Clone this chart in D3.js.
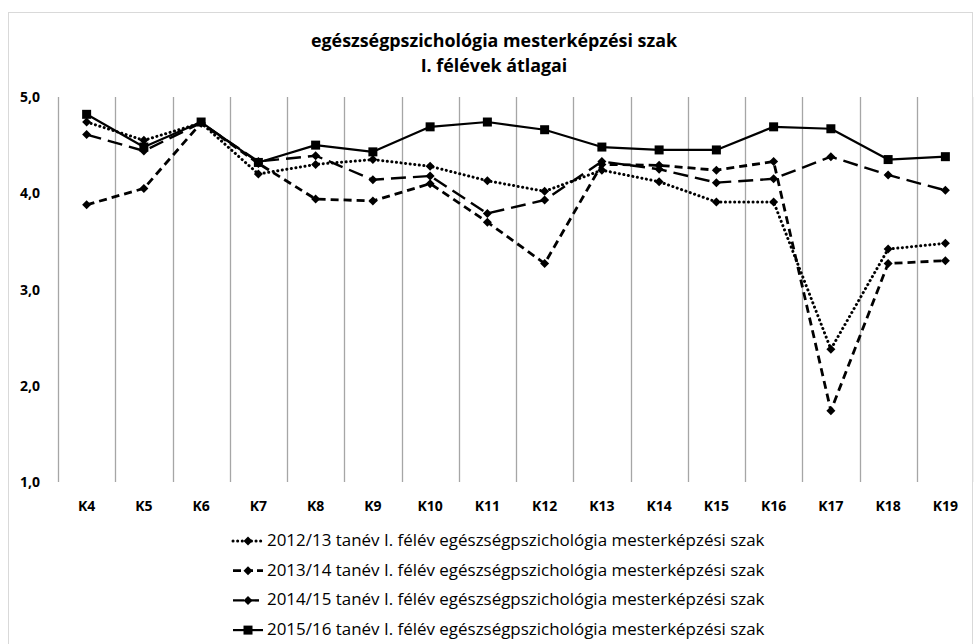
<!DOCTYPE html>
<html>
<head>
<meta charset="utf-8">
<script src="https://cdn.jsdelivr.net/npm/d3@7"></script>
<style>
    body { margin: 0; background: #fff; }
    #chart { width: 974px; height: 644px; }
    text { font-family: "Open Sans", Lato, sans-serif; fill: #000; }
</style>
</head>
<body>
<div id="chart"></div>
<script>
// kategóriák és a négy évfolyam átlagai
var categories = ["K4","K5","K6","K7","K8","K9","K10","K11","K12","K13","K14","K15","K16","K17","K18","K19"];
var s2012 = [4.74,4.55,4.73,4.20,4.30,4.35,4.28,4.13,4.02,4.24,4.12,3.91,3.91,2.38,3.42,3.48];
var s2013 = [3.88,4.05,4.73,4.31,3.94,3.92,4.10,3.70,3.27,4.30,4.29,4.24,4.33,1.74,3.27,3.30];
var s2014 = [4.61,4.44,4.73,4.33,4.39,4.14,4.18,3.79,3.93,4.33,4.25,4.11,4.15,4.38,4.19,4.03];
var s2015 = [4.82,4.48,4.74,4.32,4.50,4.43,4.69,4.74,4.66,4.48,4.45,4.45,4.69,4.67,4.35,4.38];
var yTicks = [1,2,3,4,5];
var seriesNames = [
    "2012/13 tanév I. félév egészségpszichológia mesterképzési szak",
    "2013/14 tanév I. félév egészségpszichológia mesterképzési szak",
    "2014/15 tanév I. félév egészségpszichológia mesterképzési szak",
    "2015/16 tanév I. félév egészségpszichológia mesterképzési szak"
];
var titleLines = ["egészségpszichológia mesterképzési szak", "I. félévek átlagai"];

var series = [
    {name: seriesNames[0], values: s2012, dash: "0.1,4.5", legendDash: "0.1,4.5", cap: "round", width: 3, marker: "diamond"},
    {name: seriesNames[1], values: s2013, dash: "8,5", legendDash: "8,4", cap: "butt", width: 2.8, marker: "diamond"},
    {name: seriesNames[2], values: s2014, dash: "15,7", legendDash: "11,4", cap: "butt", width: 2.4, marker: "diamond"},
    {name: seriesNames[3], values: s2015, dash: null, legendDash: null, cap: "butt", width: 2.2, marker: "square"}
];

var width = 974, height = 644;
var svg = d3.select("#chart").append("svg")
    .attr("width", width)
    .attr("height", height);

// keret
svg.append("rect")
    .attr("x", 8.5).attr("y", 12.5)
    .attr("width", 964).attr("height", 700)
    .attr("fill", "none")
    .attr("stroke", "#d9d9d9");

var x = d3.scaleBand().domain(categories).range([58, 974]);
var y = d3.scaleLinear().domain([1, 5]).range([482, 97]);

// szöveg szélességét a mintához igazítja
function fitWidth(sel, target) {
    sel.each(function() {
        var fs = +this.getAttribute("font-size");
        var w = this.getComputedTextLength();
        this.setAttribute("font-size", (fs * target / w).toFixed(2));
    });
}

// cím
var title = svg.selectAll(".title")
    .data(titleLines)
    .enter().append("text")
    .attr("class", "title")
    .attr("x", 494)
    .attr("y", function(d, i) { return 47 + i * 25; })
    .attr("text-anchor", "middle")
    .attr("font-size", 16)
    .attr("font-weight", "bold")
    .text(function(d) { return d; });
fitWidth(title.filter(function(d, i) { return i == 0; }), 366);
title.filter(function(d, i) { return i == 1; })
    .attr("font-size", svg.select(".title").attr("font-size"));

// függőleges rácsvonalak a kategóriák határain
var bounds = categories.map(function(c) { return x(c); });
bounds.push(x.range()[1]);
svg.selectAll(".grid")
    .data(bounds)
    .enter().append("line")
    .attr("x1", function(d) { return Math.round(d) + 0.5; })
    .attr("x2", function(d) { return Math.round(d) + 0.5; })
    .attr("y1", y(5)).attr("y2", y(1))
    .attr("stroke", "#a6a6a6")
    .attr("stroke-width", 1.3);

// y tengely feliratok
svg.selectAll(".ylab")
    .data(yTicks)
    .enter().append("text")
    .attr("x", 40)
    .attr("y", function(d) { return y(d) + 5; })
    .attr("text-anchor", "end")
    .attr("font-size", 14)
    .attr("font-weight", "bold")
    .text(function(d) { return d3.format(".1f")(d).replace(".", ","); });

// x tengely feliratok
svg.selectAll(".xlab")
    .data(categories)
    .enter().append("text")
    .attr("x", function(d) { return x(d) + x.bandwidth() / 2; })
    .attr("y", 511)
    .attr("text-anchor", "middle")
    .attr("font-size", 14)
    .attr("font-weight", "bold")
    .text(function(d) { return d; });

var line = d3.line()
    .x(function(d, i) { return x(categories[i]) + x.bandwidth() / 2; })
    .y(function(d) { return y(d); });

function drawMarker(g, type, cx, cy) {
    if (type == "square") {
        g.append("rect")
            .attr("x", cx - 4.5).attr("y", cy - 4.5)
            .attr("width", 9).attr("height", 9)
            .attr("fill", "#000");
    } else {
        g.append("path")
            .attr("d", "M0,-4.5L4.5,0L0,4.5L-4.5,0Z")
            .attr("transform", "translate(" + cx + "," + cy + ")")
            .attr("fill", "#000");
    }
}

series.forEach(function(s) {
    var g = svg.append("g");
    g.append("path")
        .attr("d", line(s.values))
        .attr("fill", "none")
        .attr("stroke", "#000")
        .attr("stroke-width", s.width)
        .attr("stroke-dasharray", s.dash)
        .attr("stroke-linecap", s.cap)
        .attr("stroke-linejoin", "round");
    s.values.forEach(function(v, i) {
        drawMarker(g, s.marker, x(categories[i]) + x.bandwidth() / 2, y(v));
    });
});

// jelmagyarázat
series.forEach(function(s, i) {
    var ly = 541 + i * 29.7;
    var g = svg.append("g");
    g.append("line")
        .attr("x1", 233).attr("x2", 263)
        .attr("y1", ly).attr("y2", ly)
        .attr("stroke", "#000")
        .attr("stroke-width", s.width)
        .attr("stroke-dasharray", s.legendDash)
        .attr("stroke-linecap", s.cap);
    drawMarker(g, s.marker, 248, ly);
    var t = g.append("text")
        .attr("x", 267)
        .attr("y", ly + 5)
        .attr("font-size", 15)
        .text(s.name);
    fitWidth(t, 498);
});
</script>
</body>
</html>
